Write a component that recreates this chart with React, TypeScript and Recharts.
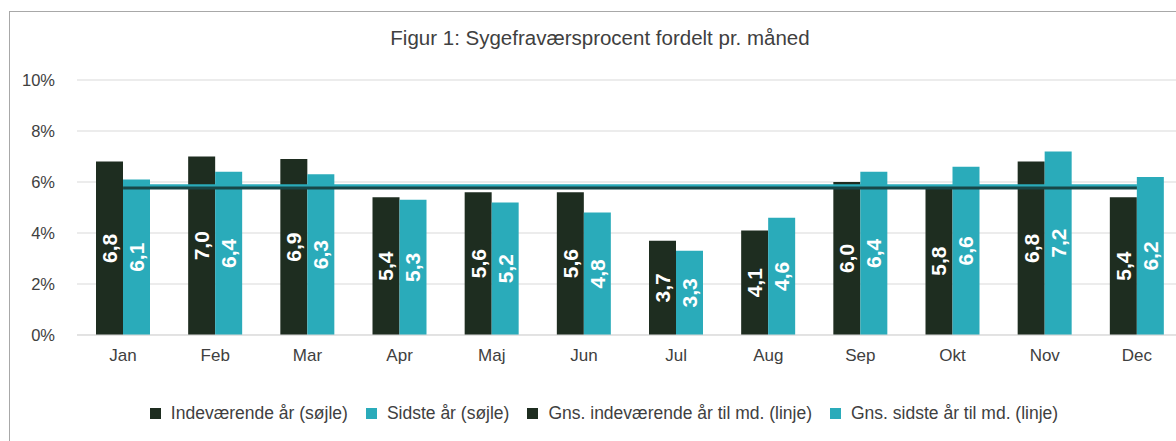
import React from "react";
import {
  ComposedChart,
  Bar,
  Line,
  XAxis,
  YAxis,
  CartesianGrid,
  LabelList,
} from "recharts";

const months = ["Jan", "Feb", "Mar", "Apr", "Maj", "Jun", "Jul", "Aug", "Sep", "Okt", "Nov", "Dec"];
const currentYear = [6.8, 7.0, 6.9, 5.4, 5.6, 5.6, 3.7, 4.1, 6.0, 5.8, 6.8, 5.4];
const lastYear = [6.1, 6.4, 6.3, 5.3, 5.2, 4.8, 3.3, 4.6, 6.4, 6.6, 7.2, 6.2];
const avgCurrent = [5.76, 5.76, 5.76, 5.76, 5.76, 5.76, 5.76, 5.76, 5.76, 5.76, 5.76, 5.76];
const avgLast = [5.85, 5.85, 5.85, 5.85, 5.85, 5.85, 5.85, 5.85, 5.85, 5.85, 5.85, 5.85];
const yTicks = [0, 2, 4, 6, 8, 10];

const seriesNames = [
  "Indeværende år (søjle)",
  "Sidste år (søjle)",
  "Gns. indeværende år til md. (linje)",
  "Gns. sidste år til md. (linje)",
];

const DARK = "#1e2d20";
const TEAL = "#2aabba";
const DARK_LINE = "#184748";
const FONT = "'Liberation Sans', Arial, sans-serif";

const data = months.map((m, i) => ({
  month: m,
  cur: currentYear[i],
  last: lastYear[i],
  avgCur: avgCurrent[i],
  avgLast: avgLast[i],
}));

const BarLabel = (props: any) => {
  const { x, y, width, height, value } = props;
  const cx = Number(x) + Number(width) / 2;
  const cy = Number(y) + Number(height) / 2;
  return (
    <text
      x={cx}
      y={cy}
      transform={`rotate(-90 ${cx} ${cy})`}
      textAnchor="middle"
      dominantBaseline="central"
      fill="#ffffff"
      fontWeight="bold"
      fontSize={21}
      fontFamily={FONT}
    >
      {Number(value).toFixed(1).replace(".", ",")}
    </text>
  );
};

export default function App() {
  const legendColors = [DARK, TEAL, DARK, TEAL];
  return (
    <div
      style={{
        position: "fixed",
        left: 0,
        top: 0,
        width: 1176,
        height: 441,
        overflow: "hidden",
        background: "#ffffff",
        fontFamily: FONT,
      }}
    >
      <div
        style={{
          position: "absolute",
          left: 9,
          top: 11,
          width: 1400,
          height: 600,
          border: "1px solid #a8a8a8",
          boxSizing: "border-box",
        }}
      />
      <div
        style={{
          position: "absolute",
          left: 0,
          width: 1200,
          top: 27,
          textAlign: "center",
          fontSize: 20.5,
          lineHeight: "21px",
          color: "#404040",
        }}
      >
        Figur 1: Sygefraværsprocent fordelt pr. måned
      </div>
      <div style={{ position: "absolute", left: 0, top: 0 }}>
        <ComposedChart
          width={1200}
          height={441}
          data={data}
          margin={{ top: 80, right: 17, bottom: 76, left: 0 }}
          barGap={0}
        >
          <CartesianGrid vertical={false} stroke="#d9d9d9" />
          <XAxis
            dataKey="month"
            tickSize={0}
            tickMargin={14}
            height={30}
            axisLine={{ stroke: "#d9d9d9" }}
            tick={{ fill: "#404040", fontSize: 17, fontFamily: FONT }}
          />
          <YAxis
            domain={[0, 10]}
            ticks={yTicks}
            width={77}
            tickSize={0}
            tickMargin={22}
            axisLine={false}
            tickFormatter={(v: number) => `${v}%`}
            tick={{ fill: "#404040", fontSize: 16.5, fontFamily: FONT }}
          />
          <Bar dataKey="cur" fill={DARK} barSize={27} isAnimationActive={false}>
            <LabelList dataKey="cur" content={BarLabel} />
          </Bar>
          <Bar dataKey="last" fill={TEAL} barSize={27} isAnimationActive={false}>
            <LabelList dataKey="last" content={BarLabel} />
          </Bar>
          <Line
            dataKey="avgLast"
            type="linear"
            stroke={TEAL}
            strokeWidth={3}
            dot={false}
            activeDot={false}
            isAnimationActive={false}
          />
          <Line
            dataKey="avgCur"
            type="linear"
            stroke={DARK_LINE}
            strokeWidth={3}
            dot={false}
            activeDot={false}
            isAnimationActive={false}
          />
        </ComposedChart>
      </div>
      <div
        style={{
          position: "absolute",
          left: 0,
          width: 1208,
          top: 403,
          height: 20,
          display: "flex",
          justifyContent: "center",
          alignItems: "center",
          fontSize: 17.5,
          color: "#404040",
          whiteSpace: "nowrap",
        }}
      >
        {seriesNames.map((name, i) => (
          <div
            key={name}
            style={{ display: "flex", alignItems: "center", marginRight: i < 3 ? 18 : 0 }}
          >
            <span
              style={{
                display: "inline-block",
                width: 11,
                height: 11,
                background: legendColors[i],
                marginRight: 10,
              }}
            />
            <span>{name}</span>
          </div>
        ))}
      </div>
    </div>
  );
}
